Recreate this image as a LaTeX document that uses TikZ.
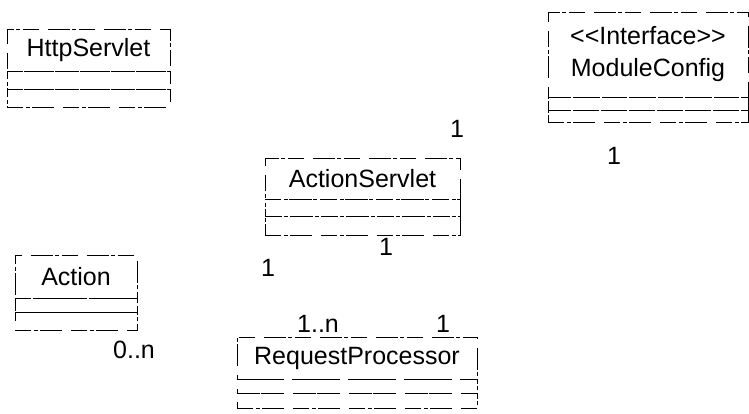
\documentclass[tikz,border=0pt]{standalone}
\usepackage{fontspec}
\setmainfont{Liberation Sans}
\usetikzlibrary{positioning}

\begin{document}
\begin{tikzpicture}[x=1pt, y=-1pt, every node/.style={font=\fontsize{25}{32}\selectfont},
  compart/.style={draw, line width=0.6pt, dash pattern=on 16pt off 3pt on 4pt off 2pt on 22pt off 9pt, inner sep=0pt, outer sep=0pt},
  mult/.style={inner sep=0pt}]
\useasboundingbox (0,0) rectangle (749,414);
\node[compart, minimum width=163pt, minimum height=42pt] (httpsrv) at (88.5,50) {HttpServlet};
\node[compart, minimum width=163pt, minimum height=18pt, below=0pt of httpsrv] (httpsrvattr) {};
\node[compart, minimum width=163pt, minimum height=18pt, below=0pt of httpsrvattr] (httpsrvops) {};
\node[compart, minimum width=200pt, minimum height=85pt, align=center] (modcfg) at (648,54.5) {<{}<Interface>{}>\\ModuleConfig};
\node[compart, minimum width=200pt, minimum height=13pt, below=0pt of modcfg] (modcfgattr) {};
\node[compart, minimum width=200pt, minimum height=12pt, below=0pt of modcfgattr] (modcfgops) {};
\node[compart, minimum width=195pt, minimum height=41pt] (actsrv) at (362.5,178.5) {ActionServlet};
\node[compart, minimum width=195pt, minimum height=17pt, below=0pt of actsrv] (actsrvattr) {};
\node[compart, minimum width=195pt, minimum height=19pt, below=0pt of actsrvattr] (actsrvops) {};
\node[compart, minimum width=122pt, minimum height=43pt] (action) at (76,276.5) {Action};
\node[compart, minimum width=122pt, minimum height=14pt, below=0pt of action] (actionattr) {};
\node[compart, minimum width=122pt, minimum height=18pt, below=0pt of actionattr] (actionops) {};
\node[compart, minimum width=240pt, minimum height=42pt] (reqproc) at (357,358) {RequestProcessor};
\node[compart, minimum width=240pt, minimum height=14pt, below=0pt of reqproc] (reqprocattr) {};
\node[compart, minimum width=240pt, minimum height=15pt, below=0pt of reqprocattr] (reqprocops) {};
% multiplicities
\node[mult] (m1) at (457,129) {1};
\node[mult] (m2) at (614,156) {1};
\node[mult] (m3) at (386,247) {1};
\node[mult] (m4) at (268,268) {1};
\node[mult] (m5) at (134,350) {0..n};
\node[mult] (m6) at (318,324) {1..n};
\node[mult] (m7) at (443,324) {1};
\end{tikzpicture}
\end{document}
